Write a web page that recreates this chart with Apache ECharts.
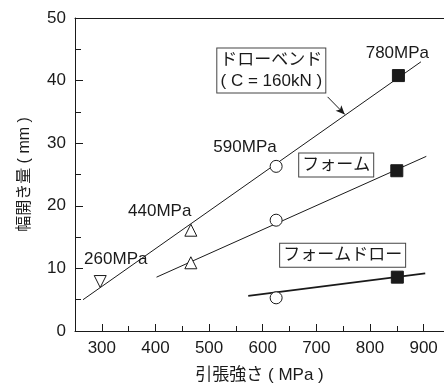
<!DOCTYPE html>
<html>
<head>
<meta charset="utf-8">
<script src="https://cdn.jsdelivr.net/npm/echarts@6/dist/echarts.min.js"></script>
<style>
html, body { margin: 0; padding: 0; background: #fff; }
#chart { width: 444px; height: 389px; }
</style>
</head>
<body>
<div id="chart"></div>
<script>
// 目盛り
var X_MAJOR = [300, 400, 500, 600, 700, 800, 900];
var X_MINOR = [350, 450, 550, 650, 750, 850];

// 回帰線（両端）
var drawBendLine = [[265, 5.0], [895, 43.0]];
var formLine = [[402, 8.6], [905, 27.9]];
var formDrawLine = [[573, 5.6], [903, 9.2]];

// 材料ごとの測定点
var mat260 = [[297, 7.9]];
var mat440 = [[466, 16.1], [466, 10.9]];
var mat590 = [[625, 26.3], [625, 17.7], [625, 5.3]];
var mat780 = [[853, 40.8], [850, 25.6], [851, 8.6]];

var FONT = '"Liberation Sans", Arial, "Noto Sans CJK JP", sans-serif';
var INK = '#1a1a1a';

function lineSeries(data, w) {
    return {
        type: 'line',
        data: data,
        symbol: 'none',
        silent: true,
        lineStyle: { color: INK, width: w },
        z: 2
    };
}

function markerSeries(data, symbol, fill, rotate) {
    return {
        type: 'scatter',
        data: data,
        symbol: symbol,
        symbolSize: 12,
        symbolRotate: rotate || 0,
        itemStyle: { color: fill, borderColor: INK, borderWidth: 1, opacity: 1 },
        z: 5
    };
}

var boxLabel = {
    show: true,
    position: 'inside',
    color: INK,
    fontFamily: FONT,
    fontSize: 17,
    lineHeight: 21,
    backgroundColor: '#fff',
    borderColor: '#444',
    borderWidth: 1,
    padding: [2, 3, 0, 3],
    align: 'center'
};
var plainLabel = {
    show: true,
    position: 'inside',
    color: INK,
    fontFamily: FONT,
    fontSize: 17
};

var drawBend = lineSeries(drawBendLine, 1);
drawBend.markLine = {
    silent: true,
    symbol: ['none', 'arrow'],
    symbolSize: [6, 9],
    label: { show: false },
    lineStyle: { color: INK, width: 1, type: 'solid' },
    data: [[{ coord: [721, 37.4] }, { coord: [753, 34.6] }]]
};
drawBend.markPoint = {
    symbol: 'circle',
    symbolSize: 0,
    silent: true,
    data: [
        { coord: [616, 41.6], value: 'ドローベンド\n( C = 160kN )', label: boxLabel },
        { coord: [851, 44.4], value: '780MPa', label: plainLabel },
        { coord: [567, 29.3], value: '590MPa', label: plainLabel },
        { coord: [408, 19.1], value: '440MPa', label: plainLabel },
        { coord: [326, 11.5], value: '260MPa', label: plainLabel },
        { coord: [737, 26.5], value: 'フォーム', label: boxLabel },
        { coord: [749, 12.1], value: 'フォームドロー', label: boxLabel }
    ]
};

var option = {
    animation: false,
    backgroundColor: '#fff',
    grid: { left: 75, right: 0, top: 18, bottom: 57 },
    xAxis: [
        {
            type: 'value', min: 250, max: 938, position: 'bottom', offset: 0,
            name: '引張強さ ( MPa )', nameLocation: 'middle', nameGap: 36,
            nameTextStyle: { color: INK, fontFamily: FONT, fontSize: 17 },
            axisLine: { lineStyle: { color: INK, width: 1 } },
            axisTick: { inside: true, length: 7, customValues: X_MAJOR, lineStyle: { color: INK } },
            axisLabel: { customValues: X_MAJOR, color: INK, fontFamily: FONT, fontSize: 17, margin: 9 },
            splitLine: { show: false }
        },
        {
            type: 'value', min: 250, max: 938, position: 'bottom', offset: 0,
            axisLine: { show: false },
            axisTick: { inside: true, length: 5, customValues: X_MINOR, lineStyle: { color: INK } },
            axisLabel: { show: false },
            splitLine: { show: false }
        },
        {
            type: 'value', min: 250, max: 938, position: 'top', offset: 0,
            axisLine: { lineStyle: { color: INK, width: 1 } },
            axisTick: { show: false },
            axisLabel: { show: false },
            splitLine: { show: false }
        }
    ],
    yAxis: {
        type: 'value', min: 0, max: 50, interval: 10,
        name: '幅開き量 ( mm )', nameLocation: 'middle', nameGap: 42,
        nameTextStyle: { color: INK, fontFamily: FONT, fontSize: 16 },
        axisLine: { show: true, lineStyle: { color: INK, width: 1 } },
        axisTick: { inside: true, length: 8, lineStyle: { color: INK } },
        minorTick: { show: true, splitNumber: 2, length: 6, lineStyle: { color: INK } },
        axisLabel: { color: INK, fontFamily: FONT, fontSize: 17, margin: 9 },
        splitLine: { show: false }
    },
    series: [
        drawBend,
        lineSeries(formLine, 1),
        lineSeries(formDrawLine, 1.8),
        markerSeries(mat260, 'triangle', '#fff', 180),
        markerSeries(mat440, 'triangle', '#fff'),
        markerSeries(mat590, 'circle', '#fff'),
        markerSeries(mat780, 'rect', INK)
    ]
};

var chart = echarts.init(document.getElementById('chart'));
chart.setOption(option);
</script>
</body>
</html>
